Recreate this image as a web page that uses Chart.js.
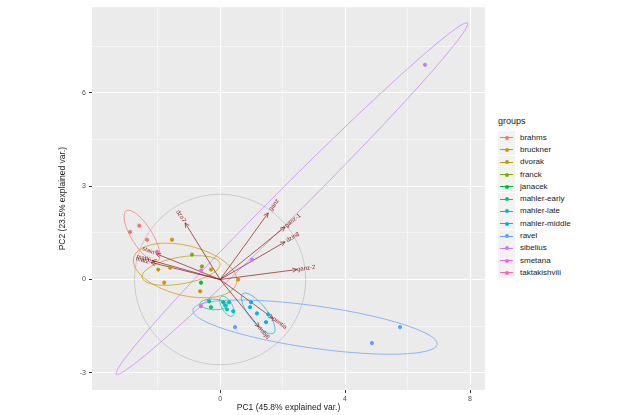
<!DOCTYPE html>
<html><head><meta charset="utf-8">
<script src="https://cdn.jsdelivr.net/npm/chart.js@4"></script>
<style>
body{margin:0;background:#fff;font-family:"Liberation Sans",Arial,sans-serif;}
#wrap{position:relative;width:640px;height:415px;}
#c{position:absolute;left:0;top:0;}
#legend{position:absolute;left:498px;top:116px;font-size:8px;color:#1a1a1a;}
#legend .t{font-size:9px;margin-bottom:5px;}
#legend .r{height:12.3px;display:flex;align-items:center;}
#legend .k{width:17px;height:12px;background:#f2f2f2;position:relative;margin-right:5px;}
#legend .k i{position:absolute;left:2px;right:2px;top:6px;height:1px;}
#legend .k b{position:absolute;left:7px;top:4.5px;width:4px;height:4px;border-radius:2px;}
</style></head><body>
<div id="wrap"><canvas id="c" width="490" height="415"></canvas><div id="legend"></div></div>
<script>
const groups = ['brahms','bruckner','dvorak','franck','janacek','mahler-early','mahler-late','mahler-middle','ravel','sibelius','smetana','taktakishvili'];
const colors = ['#F8766D','#DE8C00','#B79F00','#7CAE00','#00BA38','#00C08B','#00BFC4','#00B4F0','#619CFF','#C77CFF','#F564E3','#FF64B0'];
const scores = {
  'brahms': [[-2.88,1.53],[-2.59,1.73],[-2.34,1.28]],
  'bruckner': [[-1.54,1.28],[-1.79,-0.1],[-0.64,-0.38],[0.58,0.0]],
  'dvorak': [[-1.98,0.32],[-1.6,0.38],[-0.29,0.32]],
  'franck': [[-0.9,0.8],[-0.58,0.42]],
  'janacek': [[-0.61,-0.1]],
  'mahler-early': [[-0.35,-0.7],[-0.29,-0.89],[0.1,-0.73]],
  'mahler-late': [[0.16,-0.83],[0.22,-0.96],[0.42,-1.02],[0.29,-0.73]],
  'mahler-middle': [[0.99,-0.73],[0.96,-0.89],[1.18,-1.09],[1.54,-1.12],[1.47,-1.37]],
  'ravel': [[0.48,-1.53],[4.86,-2.04],[5.76,-1.53]],
  'sibelius': [[1.02,0.64],[6.56,6.9]],
  'smetana': [[-0.61,0.29],[-0.61,-0.86]],
  'taktakishvili': [[-2.02,0.89]]
};
// ellipses: group, centre x, centre y, semi-axis a, semi-axis b, angle (deg)
const ellipses = [
  ['sibelius',2.3,2.6,7.95,0.45,45],
  ['ravel',3.04,-1.53,3.95,0.68,-8],
  ['brahms',-2.5,1.4,0.95,0.33,-58],
  ['bruckner',-1.12,0.29,1.7,0.8,-14],
  ['dvorak',-1.25,0.29,1.27,0.43,10],
  ['mahler-early',-0.2,-0.8,0.45,0.17,-3],
  ['mahler-late',0.22,-0.86,0.36,0.17,-60],
  ['mahler-middle',1.22,-1.09,0.8,0.28,-52]
];
const circleRadius = 2.74;
const arrowNames = ['ganz','ganz-1','dzin8','ganz-2','dzo7','stain','matl6','mat2','pentia','subj6'];
const arrowX = [1.54,2.08,2.08,2.46,-1.12,-2.05,-2.18,-2.22,1.7,1.25];
const arrowY = [2.14,1.69,1.21,0.32,1.82,0.83,0.61,0.55,-1.25,-1.53];
const xTicks = [-2,0,2,4,6,8];
const yTicks = [-3,-1.5,0,1.5,3,4.5,6,7.5];

const overlay = {
  id:'overlay',
  beforeDatasetsDraw(chart){
    const {ctx, scales:{x,y}} = chart;
    const ux = x.getPixelForValue(1)-x.getPixelForValue(0);
    const uy = y.getPixelForValue(0)-y.getPixelForValue(1);
    ctx.save();
    ctx.strokeStyle='#b3b3b3'; ctx.lineWidth=0.6;
    ctx.beginPath();
    ctx.ellipse(x.getPixelForValue(0),y.getPixelForValue(0),circleRadius*ux,circleRadius*uy,0,0,Math.PI*2);
    ctx.stroke();
    ellipses.forEach(([g,cx,cy,a,b,ang])=>{
      ctx.strokeStyle=colors[groups.indexOf(g)]; ctx.lineWidth=0.7;
      ctx.beginPath();
      ctx.ellipse(x.getPixelForValue(cx),y.getPixelForValue(cy),a*ux,b*uy,-ang*Math.PI/180,0,Math.PI*2);
      ctx.stroke();
    });
    const ox=x.getPixelForValue(0), oy=y.getPixelForValue(0);
    ctx.strokeStyle='#8B1A1A'; ctx.fillStyle='#8B1A1A'; ctx.lineWidth=0.7;
    arrowNames.forEach((n,i)=>{
      const px=x.getPixelForValue(arrowX[i]), py=y.getPixelForValue(arrowY[i]);
      const t=Math.atan2(py-oy,px-ox);
      ctx.beginPath(); ctx.moveTo(ox,oy); ctx.lineTo(px,py);
      ctx.moveTo(px-5*Math.cos(t-0.45),py-5*Math.sin(t-0.45)); ctx.lineTo(px,py);
      ctx.lineTo(px-5*Math.cos(t+0.45),py-5*Math.sin(t+0.45));
      ctx.stroke();
      ctx.save();
      const lx=x.getPixelForValue(arrowX[i]*1.12), ly=y.getPixelForValue(arrowY[i]*1.12);
      ctx.translate(lx,ly);
      let r=t; if(Math.cos(t)<0) r=t+Math.PI;
      ctx.rotate(r);
      ctx.font='6px "Liberation Sans"'; ctx.textAlign='center'; ctx.textBaseline='middle';
      ctx.fillText(n,0,0);
      ctx.restore();
    });
    ctx.restore();
  }
};

const datasets = groups.map((g,i)=>({
  label:g,
  data:scores[g].map(p=>({x:p[0],y:p[1]})),
  backgroundColor:colors[i], borderColor:colors[i], pointRadius:1.6, pointHoverRadius:1.6
}));

const bg = {id:'bg',beforeDraw(chart){const a=chart.chartArea,c=chart.ctx;c.save();c.fillStyle='#EBEBEB';c.fillRect(a.left,a.top,a.right-a.left,a.bottom-a.top);c.restore();}};
const grid = (major)=>({color:'#fff', lineWidth:c=>major(c.tick.value)?1:0.5, drawTicks:true, tickLength:3,
  tickColor:c=>major(c.tick.value)?'#333':'rgba(0,0,0,0)'});

new Chart(document.getElementById('c'),{
  type:'scatter',
  data:{datasets},
  plugins:[bg,overlay],
  options:{
    responsive:false, animation:false,
    layout:{padding:{top:5,right:5,left:58,bottom:0}},
    plugins:{legend:{display:false},tooltip:{enabled:false}},
    scales:{
      x:{min:-4.1,max:8.48,border:{display:false},
        afterBuildTicks:s=>{s.ticks=xTicks.map(v=>({value:v}));},
        afterFit:s=>{s.height=25;},
        grid:grid(v=>v%4===0),
        ticks:{color:'#4d4d4d',font:{size:7},padding:2,callback:v=>v%4===0?v:''},
        title:{display:true,text:'PC1 (45.8% explained var.)',color:'#1a1a1a',font:{size:8.5},padding:{top:2,bottom:2}}},
      y:{min:-3.55,max:8.75,border:{display:false},
        afterBuildTicks:s=>{s.ticks=yTicks.map(v=>({value:v}));},
        afterFit:s=>{s.width=34;},
        grid:grid(v=>v%3===0),
        ticks:{color:'#4d4d4d',font:{size:7},padding:3,callback:v=>v%3===0?v:''},
        title:{display:true,text:'PC2 (23.5% explained var.)',color:'#1a1a1a',font:{size:8.5},padding:0}}
    }
  }
});

const lg=document.getElementById('legend');
lg.innerHTML='<div class="t">groups</div>'+groups.map((g,i)=>`<div class="r"><span class="k"><i style="background:${colors[i]}"></i><b style="background:${colors[i]}"></b></span>${g}</div>`).join('');
</script>
</body></html>
